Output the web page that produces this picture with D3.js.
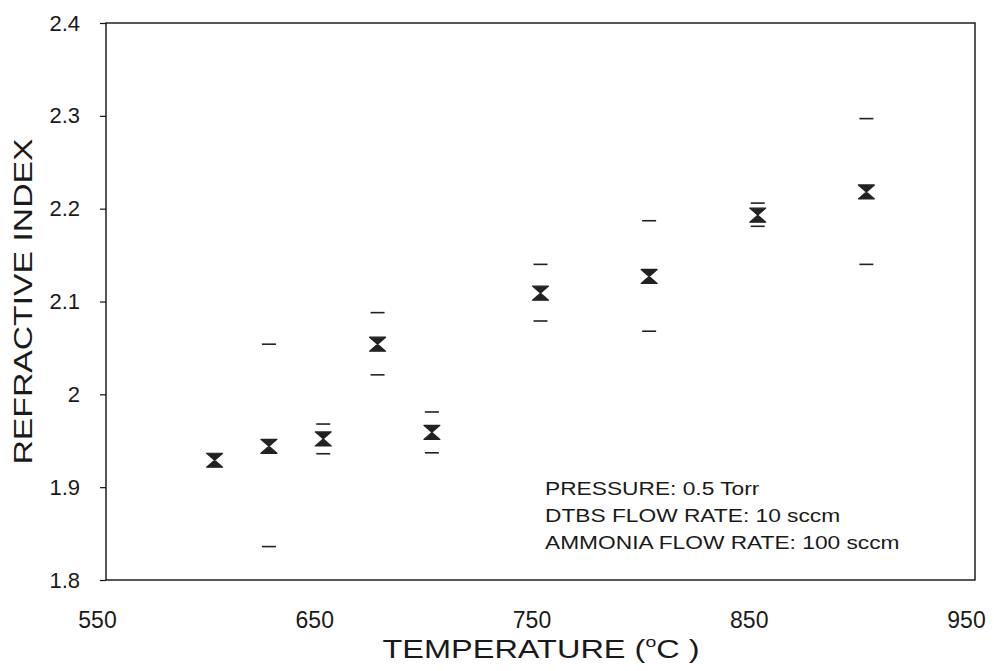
<!DOCTYPE html>
<html>
<head>
<meta charset="utf-8">
<script src="https://cdn.jsdelivr.net/npm/d3@7"></script>
<style>
  body { margin: 0; background: #fff; }
  svg text { font-family: "Liberation Sans", Arial, sans-serif; fill: #1a1a1a; }
</style>
</head>
<body>
<svg id="chart" width="994" height="671"></svg>
<script>
// Refractive index of deposited films versus deposition temperature
const temps      = [600, 625, 650, 675, 700, 750, 800, 850, 900];
const meanIndex  = [1.929, 1.944, 1.952, 2.054, 1.959, 2.109, 2.127, 2.193, 2.218];
const upperIndex = [null, 2.054, 1.968, 2.088, 1.981, 2.140, 2.187, 2.206, 2.297];
const lowerIndex = [null, 1.836, 1.936, 2.021, 1.937, 2.079, 2.068, 2.181, 2.140];

const xTicks = [550, 650, 750, 850, 950];
const yTicks = [1.8, 1.9, 2.0, 2.1, 2.2, 2.3, 2.4];
const yTickLabels = ["1.8", "1.9", "2", "2.1", "2.2", "2.3", "2.4"];
const notes = ["PRESSURE: 0.5 Torr", "DTBS FLOW RATE: 10 sccm", "AMMONIA FLOW RATE: 100 sccm"];

const W = 994, H = 671;
const margin = { top: 23, right: 19, bottom: 91, left: 106 };
const iw = W - margin.left - margin.right;
const ih = H - margin.top - margin.bottom;

const svg = d3.select("#chart");
const g = svg.append("g").attr("transform", `translate(${margin.left},${margin.top})`);

const x = d3.scaleLinear().domain([550, 950]).range([0, iw]);
const y = d3.scaleLinear().domain([1.8, 2.4]).range([ih, 0]);

// frame
g.append("rect")
  .attr("x", 0).attr("y", 0).attr("width", iw).attr("height", ih)
  .attr("fill", "none").attr("stroke", "#111").attr("stroke-width", 1.4);

// left axis: short outward ticks and labels
const yAxis = d3.axisLeft(y).tickValues(yTicks)
  .tickFormat((d, i) => yTickLabels[i]).tickSize(6).tickPadding(20);
const ya = g.append("g").call(yAxis);
ya.select(".domain").remove();
ya.selectAll("line").attr("stroke", "#111").attr("stroke-width", 1.2);
ya.selectAll("text").attr("font-size", 22).style("fill", "#1a1a1a");

// bottom axis: labels only
const xAxis = d3.axisBottom(x).tickValues(xTicks).tickFormat(d3.format("d")).tickSize(0).tickPadding(32);
const xa = g.append("g").attr("transform", `translate(0,${ih})`).call(xAxis);
xa.select(".domain").remove();
xa.selectAll("text").attr("font-size", 23).attr("dx", -9).style("fill", "#1a1a1a");

// axis titles (set in a slightly widened face)
svg.append("g")
  .attr("transform", `translate(32,${margin.top + ih / 2}) rotate(-90) scale(1.35,1)`)
  .append("text")
  .attr("text-anchor", "middle").attr("font-size", 25)
  .text("REFRACTIVE INDEX");

const xt = svg.append("g")
  .attr("transform", "translate(541,658) scale(1.3,1)")
  .append("text")
  .attr("text-anchor", "middle").attr("font-size", 25);
xt.append("tspan").text("TEMPERATURE (");
xt.append("tspan").attr("font-size", 15).attr("dy", -11).text("o");
xt.append("tspan").attr("dy", 11).text("C )");

// hourglass markers at the mean values
const hw = 8, hh = 7;
g.selectAll("path.mean").data(temps).join("path")
  .attr("class", "mean")
  .attr("transform", (d, i) => `translate(${x(d)},${y(meanIndex[i])})`)
  .attr("d", `M${-hw},${-hh}L${hw},${-hh}L0,0Z M${-hw},${hh}L${hw},${hh}L0,0Z`)
  .attr("fill", "#222").attr("stroke", "#222").attr("stroke-width", 1.2)
  .attr("stroke-linejoin", "round");

// dashes marking upper and lower values
const dash = 7;
const ends = [];
temps.forEach((t, i) => {
  if (upperIndex[i] != null) ends.push({ t, v: upperIndex[i] });
  if (lowerIndex[i] != null) ends.push({ t, v: lowerIndex[i] });
});
g.selectAll("line.end").data(ends).join("line")
  .attr("class", "end")
  .attr("x1", d => x(d.t) - dash).attr("x2", d => x(d.t) + dash)
  .attr("y1", d => y(d.v)).attr("y2", d => y(d.v))
  .attr("stroke", "#222").attr("stroke-width", 1.6);

// conditions note
svg.append("g").selectAll("g").data(notes).join("g")
  .attr("transform", (d, i) => `translate(545,${495 + i * 27}) scale(1.3,1)`)
  .append("text")
  .attr("font-size", 17.5)
  .text(d => d);
</script>
</body>
</html>
